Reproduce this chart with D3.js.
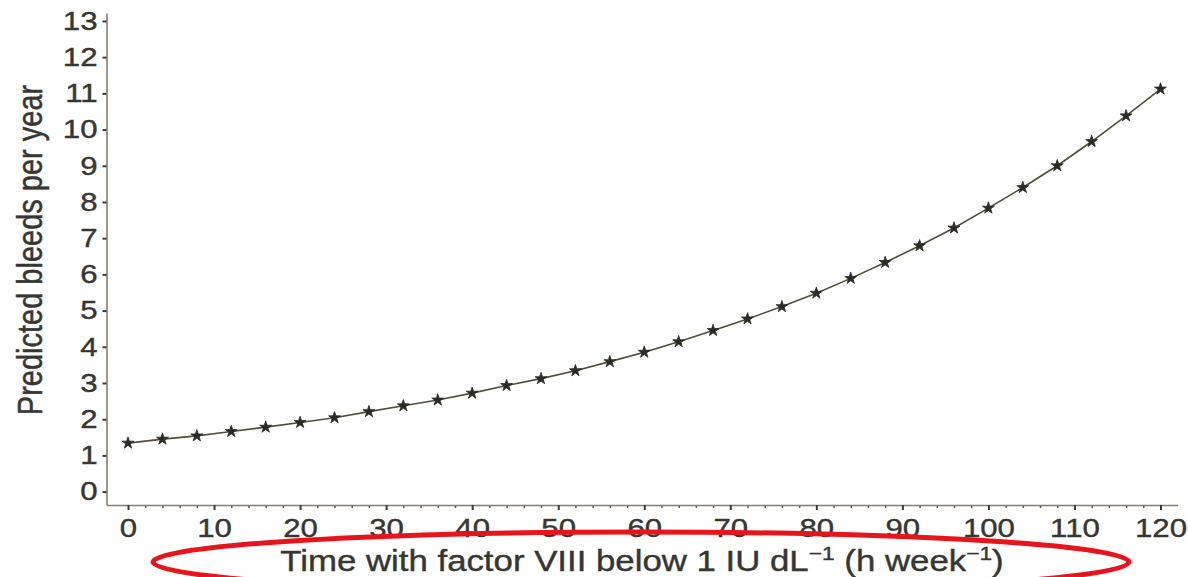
<!DOCTYPE html>
<html>
<head>
<meta charset="utf-8">
<script src="https://cdn.jsdelivr.net/npm/d3@7"></script>
<style>
  html, body { margin: 0; padding: 0; background: #fff; }
  svg { display: block; font-family: "Liberation Sans", Arial, sans-serif; }
</style>
</head>
<body>
<svg id="chart"></svg>
<script>
// hours per week below 1 IU/dL
const hoursBelow = [0, 4, 8, 12, 16, 20, 24, 28, 32, 36, 40, 44, 48, 52, 56, 60,
    64, 68, 72, 76, 80, 84, 88, 92, 96, 100, 104, 108, 112, 116, 120];
// predicted bleeds per year
const bleedsPerYear = [1.34, 1.45, 1.54, 1.66, 1.78, 1.91, 2.04, 2.21, 2.37, 2.53, 2.72,
    2.93, 3.12, 3.34, 3.59, 3.85, 4.14, 4.45, 4.77, 5.11, 5.48, 5.89, 6.33, 6.79,
    7.28, 7.83, 8.40, 9.00, 9.67, 10.38, 11.12];
const xTickValues = [0, 10, 20, 30, 40, 50, 60, 70, 80, 90, 100, 110, 120];
const yTickValues = [0, 1, 2, 3, 4, 5, 6, 7, 8, 9, 10, 11, 12, 13];

const width = 1188, height = 577;
const textColor = "#363632";
const stretch = 1.2; // the source figure is squashed sideways

const svg = d3.select("#chart")
    .attr("width", width)
    .attr("height", height);

const x = d3.scaleLinear().domain([-2.5, 122]).range([106.5, 1177.7]);
const y = d3.scaleLinear().domain([-0.37, 13.22]).range([505, 13]);

// x axis: major ticks every 10, minor every 2
const minorX = d3.range(0, 121, 2).filter(d => d % 10 !== 0);
svg.append("g")
    .attr("transform", `translate(0,${y.range()[0]})`)
    .call(d3.axisBottom(x).tickValues(minorX).tickSize(3).tickSizeOuter(0).tickFormat(""))
    .call(g => g.select(".domain").remove())
    .call(g => g.selectAll("line").attr("stroke", "#55524a").attr("stroke-width", 1.5));

const xAxis = svg.append("g")
    .attr("transform", `translate(0,${y.range()[0]})`)
    .call(d3.axisBottom(x).tickValues(xTickValues).tickSize(5).tickPadding(8.5).tickSizeOuter(0));

// y axis
const yAxis = svg.append("g")
    .attr("transform", `translate(${x.range()[0]},0)`)
    .call(d3.axisLeft(y).tickValues(yTickValues).tickSize(4).tickPadding(0).tickSizeOuter(0));

[xAxis, yAxis].forEach(g => {
    g.select(".domain").attr("stroke", "#857f6a").attr("stroke-width", 1.6);
    g.selectAll(".tick line").attr("stroke", "#3d3b35").attr("stroke-width", 2);
    g.selectAll(".tick text")
        .attr("fill", textColor)
        .attr("stroke", textColor)
        .attr("stroke-width", 0.4)
        .attr("font-size", 26)
        .attr("font-family", "Liberation Sans, Arial, sans-serif");
});
xAxis.selectAll(".tick text").attr("transform", `scale(${stretch},1)`);
yAxis.selectAll(".tick text")
    .attr("x", -9 / stretch)
    .attr("transform", `scale(${stretch},1)`);

// curve and markers
const line = d3.line()
    .x((d, i) => x(hoursBelow[i]))
    .y(d => y(d));

svg.append("path")
    .datum(bleedsPerYear)
    .attr("fill", "none")
    .attr("stroke", "#534c36")
    .attr("stroke-width", 1.6)
    .attr("d", line);

svg.append("g")
    .selectAll("path")
    .data(bleedsPerYear)
    .join("path")
    .attr("transform", (d, i) => `translate(${x(hoursBelow[i])},${y(d)})`)
    .attr("d", d3.symbol(d3.symbolStar, 44))
    .attr("fill", "#2b2a24")
    .attr("stroke", "#2b2a24")
    .attr("stroke-width", 0.8);

// axis titles
svg.append("text")
    .attr("transform", `translate(42,250) scale(${stretch},1) rotate(-90)`)
    .attr("text-anchor", "middle")
    .attr("font-size", 29)
    .attr("fill", textColor)
    .attr("stroke", textColor)
    .attr("stroke-width", 0.4)
    .text("Predicted bleeds per year");

const xTitle = svg.append("text")
    .attr("transform", `translate(642,571) scale(${stretch},1)`)
    .attr("text-anchor", "middle")
    .attr("font-size", 29)
    .attr("fill", textColor)
    .attr("stroke", textColor)
    .attr("stroke-width", 0.4);
xTitle.append("tspan").text("Time with factor VIII below 1 IU dL");
xTitle.append("tspan").attr("font-size", 19).attr("dy", -11).text("\u22121");
xTitle.append("tspan").attr("dy", 11).text(" (h week");
xTitle.append("tspan").attr("font-size", 19).attr("dy", -11).text("\u22121");
xTitle.append("tspan").attr("dy", 11).text(")");

// red annotation ring around the x title
svg.append("ellipse")
    .attr("cx", 641)
    .attr("cy", 562)
    .attr("rx", 488)
    .attr("ry", 30)
    .attr("fill", "none")
    .attr("stroke", "#e8141c")
    .attr("stroke-width", 5);
</script>
</body>
</html>
